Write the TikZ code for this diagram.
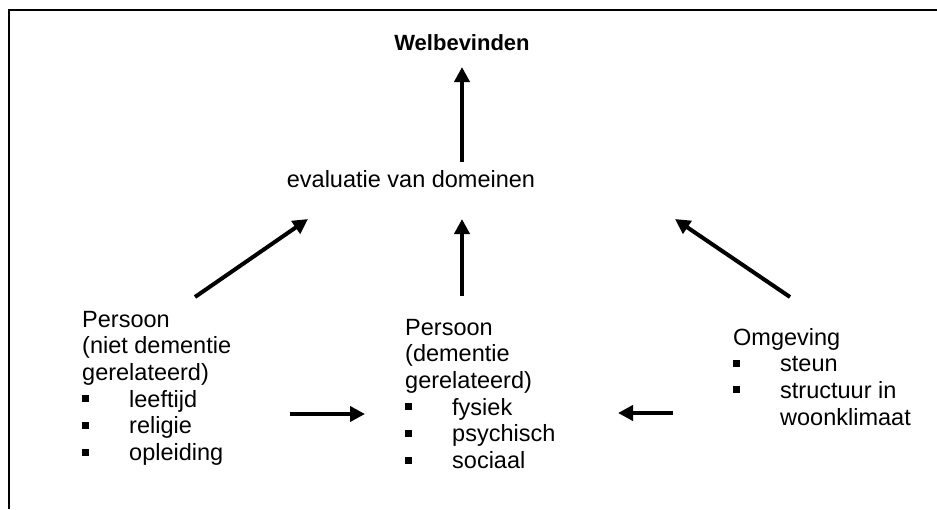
\documentclass[tikz,border=0pt]{standalone}
\usepackage{fontspec}
\setmainfont{Liberation Sans}
\usetikzlibrary{arrows.meta}
\newcommand\bulitem[1]{\hbox{\makebox[47pt][l]{\rule[5pt]{7pt}{7pt}}#1}}
\newcommand\plainline[1]{\hbox{#1}}
\begin{document}
\begin{tikzpicture}[x=1pt,y=-1pt,
  lbl/.style={inner sep=0pt, font=\fontsize{23.5}{26.7}\selectfont},
  arr/.style={line width=4pt, -{Triangle[length=15pt,width=15pt]}},
  framestyle/.style={line width=2pt}]
\useasboundingbox (0,0) rectangle (937,509);
\draw[framestyle] (9,509) -- (9,10) -- (937,10);

\node[lbl, font=\fontsize{22}{26}\selectfont\bfseries, anchor=base] (wel) at (462,50) {Welbevinden};
\node[lbl, anchor=base] (eval) at (411,187) {evaluatie van domeinen};

\node[lbl, anchor=base west] (left) at (82,327) {\vtop{\plainline{Persoon}\plainline{(niet dementie}\plainline{gerelateerd)}\bulitem{leeftijd}\bulitem{religie}\bulitem{opleiding}}};
\node[lbl, anchor=base west] (mid) at (405,335) {\vtop{\plainline{Persoon}\plainline{(dementie}\plainline{gerelateerd)}\bulitem{fysiek}\bulitem{psychisch}\bulitem{sociaal}}};
\node[lbl, anchor=base west] (right) at (733,345) {\vtop{\plainline{Omgeving}\bulitem{steun}\bulitem{structuur in}\plainline{\hspace*{47pt}woonklimaat}}};

\coordinate (a1s) at (462,162); \coordinate (a1e) at (462,67);
\coordinate (a2s) at (462,296); \coordinate (a2e) at (462,219);
\coordinate (a3s) at (195,297); \coordinate (a3e) at (308,219);
\coordinate (a4s) at (790,297); \coordinate (a4e) at (675,219);
\coordinate (a5s) at (290,414); \coordinate (a5e) at (365,414);
\coordinate (a6s) at (673,413); \coordinate (a6e) at (618,413);

\draw[arr] (a1s) -- (a1e);
\draw[arr] (a2s) -- (a2e);
\draw[arr] (a3s) -- (a3e);
\draw[arr] (a4s) -- (a4e);
\draw[arr] (a5s) -- (a5e);
\draw[arr] (a6s) -- (a6e);
\end{tikzpicture}
\end{document}
